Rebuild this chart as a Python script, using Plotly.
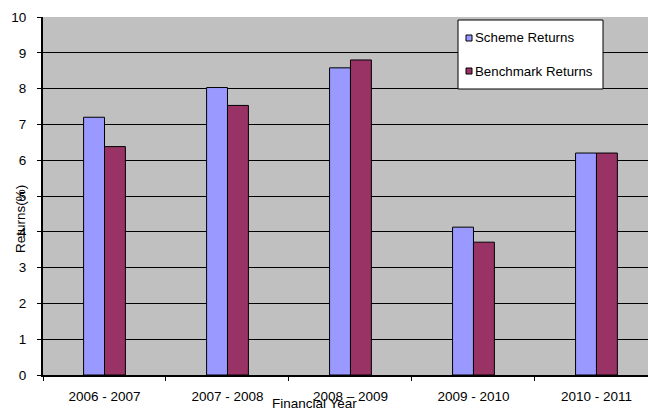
import plotly.graph_objects as go

years = ["2006 - 2007", "2007 - 2008", "2008 – 2009", "2009 - 2010", "2010 - 2011"]
scheme_returns = [7.2, 8.03, 8.58, 4.13, 6.2]
benchmark_returns = [6.38, 7.53, 8.8, 3.71, 6.2]
y_ticks = list(range(0, 11))
series_names = ["Scheme Returns", "Benchmark Returns"]
series_colors = ["#9999FF", "#993366"]

FONT = "Liberation Sans, Arial, sans-serif"
W, H = 648, 413
L, R, T, B = 43, 0, 17, 38
PW, PH = W - L - R, H - T - B


def px(xp):
    return (xp - L) / PW


def py(yp):
    return (H - B - yp) / PH


fig = go.Figure()
for name, vals, col in zip(series_names, [scheme_returns, benchmark_returns], series_colors):
    fig.add_trace(go.Bar(
        x=years, y=vals, name=name, showlegend=False,
        marker=dict(color=col, line=dict(color="black", width=1)),
    ))

# legend box drawn by hand to match the compact original
shapes = [dict(type="rect", xref="paper", yref="paper",
               x0=px(458), x1=px(603), y0=py(89), y1=py(20),
               fillcolor="white", line=dict(color="black", width=1), layer="above")]
annotations = []
for i, (name, col) in enumerate(zip(series_names, series_colors)):
    cy = 38 + i * 33
    shapes.append(dict(type="rect", xref="paper", yref="paper",
                       x0=px(466), x1=px(472), y0=py(cy + 3), y1=py(cy - 3),
                       fillcolor=col, line=dict(color="black", width=1), layer="above"))
    annotations.append(dict(text=name, x=px(473), y=py(cy), xref="paper", yref="paper",
                            showarrow=False, xanchor="left", yanchor="middle",
                            font=dict(family=FONT, size=13.3, color="black")))

annotations += [
    dict(text="Returns(%)", textangle=-90, x=px(20), y=py(219),
         xref="paper", yref="paper", showarrow=False,
         font=dict(family=FONT, size=13.5), xanchor="center", yanchor="middle"),
    dict(text="Financial Year", x=px(314), y=py(403),
         xref="paper", yref="paper", showarrow=False,
         font=dict(family=FONT, size=13.5), xanchor="center", yanchor="middle"),
]

fig.update_layout(
    width=W, height=H,
    margin=dict(l=L, r=R, t=T, b=B, autoexpand=False),
    paper_bgcolor="white",
    plot_bgcolor="#C0C0C0",
    barmode="group",
    bargap=0.66,
    bargroupgap=0,
    font=dict(family=FONT, size=13.5, color="black"),
    showlegend=False,
    xaxis=dict(
        type="category",
        categoryorder="array", categoryarray=years,
        range=[-0.5, 4.419],
        showgrid=False,
        showline=True, linecolor="black", linewidth=2,
        ticks="outside", tickson="boundaries", ticklen=4, tickcolor="black",
        ticklabelstandoff=8,
        tickfont=dict(family=FONT, size=13.5),
        zeroline=False,
    ),
    yaxis=dict(
        range=[0, 10],
        tickvals=y_ticks,
        showgrid=True, gridcolor="black", gridwidth=1,
        showline=True, linecolor="black", linewidth=2,
        ticks="outside", ticklen=4, tickcolor="black",
        ticklabelstandoff=8,
        tickfont=dict(family=FONT, size=13.5),
        zeroline=False,
    ),
    shapes=shapes,
    annotations=annotations,
)

fig.write_html(
    "out.html",
    config={"displayModeBar": False},
    post_script="document.body.style.margin='0';document.body.style.overflow='hidden';",
)
